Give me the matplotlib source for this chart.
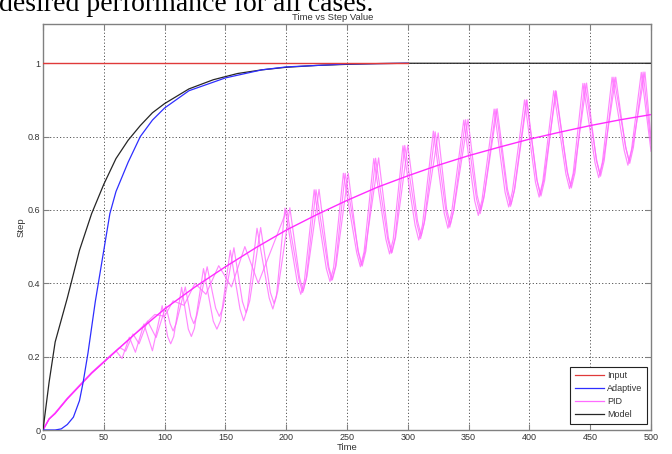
import matplotlib
matplotlib.use("Agg")
import matplotlib.pyplot as plt
from matplotlib.lines import Line2D

# ---------------- data ----------------
input_t = [0, 300]
input_y = [1.0, 1.0]

model_t = [0, 5, 10, 20, 30, 40, 50, 60, 70, 80, 90, 100, 120, 140, 160, 180, 200, 225, 250, 275, 300, 500]
model_y = [0, 0.13, 0.24, 0.36, 0.49, 0.59, 0.67, 0.74, 0.79, 0.83, 0.865, 0.89, 0.93, 0.955, 0.972, 0.982,
           0.989, 0.994, 0.997, 0.999, 1.0, 1.0]

adapt_t = [0, 10, 15, 20, 25, 30, 33, 37, 40, 43, 47, 50, 55, 60, 65, 70, 80, 90, 100, 120, 150, 180, 200, 250, 300]
adapt_y = [0, 0, 0.003, 0.015, 0.035, 0.08, 0.13, 0.21, 0.28, 0.35, 0.43, 0.49, 0.59, 0.65, 0.69, 0.73, 0.80,
           0.845, 0.878, 0.925, 0.96, 0.982, 0.99, 0.998, 1.0]

pid_t = [0, 5, 10, 20, 30, 40, 50, 60, 75, 100, 125, 150, 175, 200, 225, 250, 275, 300, 325, 350, 375, 400,
         425, 450, 475, 500]
pid_y = [0, 0.03, 0.045, 0.085, 0.12, 0.155, 0.185, 0.215, 0.26, 0.33, 0.39, 0.445, 0.497, 0.545, 0.587, 0.626,
         0.662, 0.693, 0.722, 0.748, 0.771, 0.793, 0.812, 0.830, 0.846, 0.86]

osc_a_t = [0, 5, 10, 20, 30, 40, 50, 55, 60, 65, 71, 76, 83, 90, 98,
           102.5, 105, 107.5, 114, 119.5, 122, 124.5, 132, 140, 143, 146, 154, 162, 165, 168, 176,
           186, 189, 192, 199, 209, 212, 215, 223, 233, 236, 239, 247, 258, 261, 264, 272,
           282, 285, 288, 296, 306, 309, 312, 321, 330, 333, 336, 346, 355, 358, 361, 371,
           380, 383, 386, 396, 405, 408, 411, 420, 430, 433, 436, 444, 454, 457, 460, 468,
           478, 481, 484, 492, 500]
osc_a_y = [0, 0.03, 0.045, 0.085, 0.12, 0.155, 0.185, 0.20, 0.216, 0.195, 0.253, 0.212, 0.289, 0.216, 0.339,
           0.255, 0.235, 0.255, 0.389, 0.275, 0.255, 0.277, 0.44, 0.297, 0.275, 0.298, 0.49, 0.33, 0.298, 0.33, 0.55,
           0.36, 0.33, 0.365, 0.605, 0.405, 0.37, 0.408, 0.655, 0.44, 0.405, 0.443, 0.70, 0.483, 0.445, 0.485, 0.74,
           0.52, 0.48, 0.52, 0.775, 0.558, 0.518, 0.558, 0.815, 0.59, 0.55, 0.592, 0.845, 0.625, 0.585, 0.627, 0.875,
           0.648, 0.608, 0.65, 0.90, 0.675, 0.635, 0.677, 0.925, 0.698, 0.658, 0.70, 0.945, 0.728, 0.688, 0.73, 0.962,
           0.762, 0.722, 0.765, 0.975, 0.76]

osc_b_t = [0, 5, 10, 20, 30, 40, 50, 56, 63, 68, 74, 79, 86, 93, 101,
           104.5, 107, 109.5, 117, 121.5, 124, 126.5, 135, 142, 145, 148, 157, 164, 167, 170, 179,
           187, 190, 193, 203, 211, 214, 217, 227, 235, 238, 241, 251, 259, 262, 265, 276,
           284, 287, 290, 300, 308, 311, 314, 325, 332, 335, 338, 349.5, 357, 360, 363, 373.5,
           382, 385, 388, 398, 406, 409, 412, 422, 431, 434, 437, 447, 455, 458, 461, 471,
           479, 482, 485, 495, 500]
osc_b_y = [0, 0.03, 0.047, 0.087, 0.122, 0.157, 0.187, 0.205, 0.225, 0.215, 0.262, 0.235, 0.297, 0.252, 0.338,
           0.29, 0.27, 0.29, 0.39, 0.31, 0.29, 0.312, 0.445, 0.332, 0.31, 0.333, 0.497, 0.35, 0.32, 0.352, 0.552,
           0.375, 0.345, 0.378, 0.606, 0.415, 0.38, 0.418, 0.656, 0.445, 0.41, 0.448, 0.70, 0.488, 0.45, 0.49, 0.742,
           0.524, 0.484, 0.526, 0.777, 0.57, 0.53, 0.572, 0.81, 0.601, 0.561, 0.603, 0.847, 0.64, 0.60, 0.642, 0.876,
           0.656, 0.616, 0.658, 0.90, 0.683, 0.643, 0.685, 0.924, 0.705, 0.665, 0.707, 0.946, 0.737, 0.697, 0.739, 0.962,
           0.773, 0.733, 0.775, 0.976, 0.797]

osc_c_t = [0, 5, 10, 20, 30, 40, 50, 60, 75, 92, 100, 107, 116, 125, 134, 144.5, 155, 166, 177, 200.5,
           210.5, 213.5, 216.5, 224.5, 234.5, 237.5, 240.5, 248.5, 259.5, 262.5, 265.5, 273.5,
           283.5, 286.5, 289.5, 297.5, 307.5, 310.5, 313.5, 322.5, 331.5, 334.5, 337.5, 347.5,
           356.5, 359.5, 362.5, 372.5, 381.5, 384.5, 387.5, 397.5, 406.5, 409.5, 412.5, 421.5,
           431.5, 434.5, 437.5, 445.5, 455.5, 458.5, 461.5, 469.5, 479.5, 482.5, 485.5, 493.5, 500]
osc_c_y = [0, 0.03, 0.046, 0.086, 0.121, 0.156, 0.186, 0.216, 0.26, 0.315, 0.31, 0.352, 0.34, 0.40, 0.37,
           0.448, 0.39, 0.50, 0.40, 0.60,
           0.41, 0.375, 0.413, 0.655, 0.443, 0.408, 0.446, 0.70, 0.485, 0.447, 0.488, 0.741,
           0.52, 0.482, 0.523, 0.776, 0.562, 0.522, 0.564, 0.813, 0.593, 0.553, 0.595, 0.846,
           0.63, 0.59, 0.632, 0.875, 0.65, 0.61, 0.652, 0.90, 0.678, 0.638, 0.68, 0.925,
           0.70, 0.66, 0.702, 0.945, 0.732, 0.692, 0.734, 0.962, 0.767, 0.727, 0.77, 0.976, 0.78]

x_ticks = [0, 50, 100, 150, 200, 250, 300, 350, 400, 450, 500]
y_ticks = [0, 0.2, 0.4, 0.6, 0.8, 1.0]
y_tick_labels = ["0", "0.2", "0.4", "0.6", "0.8", "1"]
legend_labels = ["Input", "Adaptive", "PID", "Model"]

# ---------------- figure ----------------
W, H = 672, 454
fig = plt.figure(figsize=(W / 100, H / 100), dpi=100)
fig.patch.set_facecolor("white")

# cut-off line of the surrounding document text (cut at the top edge, as in the source)
fig.text(-0.002, 1 - 11.0 / H, "desired performance for all cases.", family="Liberation Serif",
         fontsize=20, ha="left", va="baseline", color="black")

left, right, top, bottom = 43, 651, 24, 430
ax = fig.add_axes([left / W, 1 - bottom / H, (right - left) / W, (bottom - top) / H])

tick_font = dict(family="Liberation Sans", size=6.5)

osc_color = "#ff6bff"
ax.plot(osc_a_t, osc_a_y, color=osc_color, lw=0.85, alpha=0.8, zorder=2, solid_joinstyle="round")
ax.plot(osc_b_t, osc_b_y, color=osc_color, lw=0.85, alpha=0.8, zorder=2, solid_joinstyle="round")
ax.plot(osc_c_t, osc_c_y, color=osc_color, lw=0.85, alpha=0.8, zorder=2, solid_joinstyle="round")
ax.plot(pid_t, pid_y, color="#ff2cff", lw=1.0, zorder=3)
ax.plot(model_t, model_y, color="#262626", lw=0.9, zorder=3)
ax.plot(adapt_t, adapt_y, color="#2e2eff", lw=0.9, zorder=4)
ax.plot(input_t, input_y, color="#e03a3a", lw=1.0, zorder=5)

ax.set_xlim(0, 500)
ax.set_ylim(0, 1.107)
ax.set_xticks(x_ticks)
ax.set_xticklabels([str(v) for v in x_ticks], fontdict=tick_font, color="#333333")
ax.set_yticks(y_ticks)
ax.set_yticklabels(y_tick_labels, fontdict=tick_font, color="#333333")
ax.tick_params(direction="in", top=True, right=True, length=4, width=0.8, color="#808080", pad=2)

ax.grid(True, color="#555555", linestyle=(0, (1.2, 2.2)), linewidth=0.7)
ax.set_axisbelow(True)
for s in ax.spines.values():
    s.set_color("#808080")
    s.set_linewidth(1.0)

ax.set_title("Time vs Step Value", family="Liberation Sans", fontsize=6.8, color="#333333", x=0.477, pad=3)
ax.set_xlabel("Time", family="Liberation Sans", fontsize=6.8, color="#333333", labelpad=1)
ax.set_ylabel("Step", family="Liberation Sans", fontsize=6.8, color="#333333", labelpad=1.5)

handles = [Line2D([], [], color="#e03a3a", lw=0.9),
           Line2D([], [], color="#2e2eff", lw=0.9),
           Line2D([], [], color="#ff6bff", lw=0.9),
           Line2D([], [], color="#262626", lw=0.9)]
leg = ax.legend(handles, legend_labels, loc="lower right", bbox_to_anchor=(0.9934, 0.0148),
                borderaxespad=0, prop=dict(family="Liberation Sans", size=6.5), frameon=True,
                fancybox=False, edgecolor="#222222", framealpha=1, labelspacing=0.45,
                handlelength=3.2, handletextpad=0.4, borderpad=0.5)
leg.get_frame().set_linewidth(0.8)
for t in leg.get_texts():
    t.set_color("#333333")

fig.savefig("out.png", dpi=100)
